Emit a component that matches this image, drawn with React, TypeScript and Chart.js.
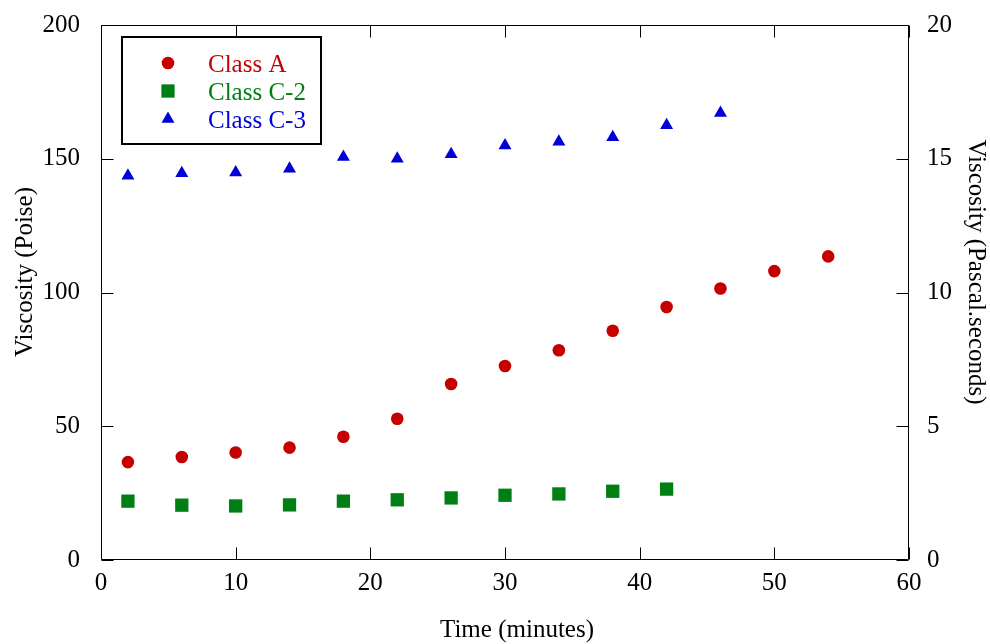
import React, { useEffect, useRef } from 'react';
import { Chart, registerables } from 'chart.js';
import { drawPoint } from 'chart.js/helpers';

Chart.register(...registerables);

const timeA = [2, 6, 10, 14, 18, 22, 26, 30, 34, 38, 42, 46, 50, 54];
const classA = [36.6, 38.5, 40.2, 42.0, 46.1, 52.8, 65.8, 72.5, 78.4, 85.7, 94.6, 101.5, 108.0, 113.5];
const timeC2 = [2, 6, 10, 14, 18, 22, 26, 30, 34, 38, 42];
const classC2 = [22.0, 20.5, 20.2, 20.6, 22.0, 22.5, 23.2, 24.2, 24.7, 25.7, 26.5];
const timeC3 = [2, 6, 10, 14, 18, 22, 26, 30, 34, 38, 42, 46];
const classC3 = [143.6, 144.6, 144.9, 146.3, 150.7, 150.0, 151.7, 155.0, 156.4, 158.0, 162.5, 167.1];

const seriesNames = ['Class A', 'Class C-2', 'Class C-3'];
const seriesColors = ['#c40000', '#008014', '#0000d8'];
const seriesStyles = ['circle', 'rect', 'triangle'];
const seriesRadius = [6.3, 9.4, 7.5];

const xTitle = 'Time (minutes)';
const yTitle = 'Viscosity (Poise)';
const y2Title = 'Viscosity (Pascal.seconds)';

const FAMILY = '"Liberation Serif", "Times New Roman", Times, serif';
const FONT = `25px ${FAMILY}`;

const framePlugin = {
  id: 'gnuframe',
  afterDraw(chart: any) {
    const { ctx, chartArea: a, scales } = chart;
    ctx.save();
    ctx.strokeStyle = '#000';
    ctx.lineWidth = 1;
    const L = Math.round(a.left) + 0.5;
    const R = Math.round(a.right) - 0.5;
    const T = Math.round(a.top) + 0.5;
    const B = Math.round(a.bottom) - 0.5;
    ctx.beginPath();
    ctx.rect(L, T, R - L, B - T);
    const tl = 12;
    scales.x.ticks.forEach((t: any) => {
      const px = Math.round(scales.x.getPixelForValue(t.value)) + 0.5;
      ctx.moveTo(px, B);
      ctx.lineTo(px, B - tl);
      ctx.moveTo(px, T);
      ctx.lineTo(px, T + tl);
    });
    scales.y.ticks.forEach((t: any) => {
      const py = Math.round(scales.y.getPixelForValue(t.value)) + 0.5;
      ctx.moveTo(L, py);
      ctx.lineTo(L + tl, py);
    });
    scales.y2.ticks.forEach((t: any) => {
      const py = Math.round(scales.y2.getPixelForValue(t.value)) + 0.5;
      ctx.moveTo(R, py);
      ctx.lineTo(R - tl, py);
    });
    ctx.stroke();

    // axis titles
    ctx.fillStyle = '#000';
    ctx.font = FONT;
    ctx.textAlign = 'center';
    ctx.textBaseline = 'alphabetic';
    ctx.fillText(xTitle, 517, 637);
    ctx.save();
    ctx.translate(32, 272);
    ctx.rotate(-Math.PI / 2);
    ctx.fillText(yTitle, 0, 0);
    ctx.restore();
    ctx.save();
    ctx.translate(969, 272);
    ctx.rotate(Math.PI / 2);
    ctx.fillText(y2Title, 0, 0);
    ctx.restore();

    // legend
    const boxL = a.left + 21;
    const boxT = a.top + 12;
    ctx.lineWidth = 2;
    ctx.strokeStyle = '#000';
    ctx.strokeRect(boxL, boxT, 199, 107);
    ctx.textAlign = 'left';
    seriesNames.forEach((name, i) => {
      const rowY = boxT + 26 + i * 28;
      ctx.fillStyle = seriesColors[i];
      drawPoint(ctx, { pointStyle: seriesStyles[i], radius: seriesRadius[i], borderWidth: 0, rotation: 0 } as any, boxL + 46, rowY);
      ctx.fillStyle = seriesColors[i];
      ctx.fillText(name, boxL + 86, rowY + 9);
    });
    ctx.restore();
  },
};

export default function App() {
  const ref = useRef<HTMLCanvasElement>(null);
  useEffect(() => {
    document.body.style.margin = '0';
    const mk = (xs: number[], ys: number[]) => xs.map((x, i) => ({ x, y: ys[i] }));
    const datas = [mk(timeA, classA), mk(timeC2, classC2), mk(timeC3, classC3)];
    const tickFont = { family: FAMILY, size: 25 };
    const fitX = (s: any) => { s.height = 84; s.paddingLeft = 0; s.paddingRight = 0; s.paddingTop = 0; s.paddingBottom = 0; };
    const fitY = (w: number) => (s: any) => { s.width = w; s.paddingTop = 0; s.paddingBottom = 0; s.paddingLeft = 0; s.paddingRight = 0; };
    const chart = new Chart(ref.current!, {
      type: 'scatter',
      data: {
        datasets: seriesNames.map((name, i) => ({
          label: name,
          data: datas[i],
          pointStyle: seriesStyles[i] as any,
          pointRadius: seriesRadius[i],
          pointHoverRadius: seriesRadius[i],
          backgroundColor: seriesColors[i],
          borderColor: seriesColors[i],
          pointBorderWidth: 0,
          showLine: false,
          yAxisID: 'y',
        })),
      },
      options: {
        animation: false,
        responsive: false,
        devicePixelRatio: 1,
        layout: { padding: { top: 25, left: 0, right: 0, bottom: 0 } },
        plugins: { legend: { display: false }, tooltip: { enabled: false } },
        scales: {
          x: {
            type: 'linear',
            min: 0,
            max: 60,
            ticks: { stepSize: 10, font: tickFont, color: '#000', padding: 8 },
            grid: { display: false, drawTicks: false },
            border: { display: false },
            afterFit: fitX,
          },
          y: {
            type: 'linear',
            position: 'left',
            min: 0,
            max: 200,
            ticks: { stepSize: 50, font: tickFont, color: '#000', padding: 21 },
            grid: { display: false, drawTicks: false },
            border: { display: false },
            afterFit: fitY(101),
          },
          y2: {
            type: 'linear',
            position: 'right',
            min: 0,
            max: 20,
            ticks: { stepSize: 5, font: tickFont, color: '#000', padding: 18 },
            grid: { display: false, drawTicks: false },
            border: { display: false },
            afterFit: fitY(81),
          },
        },
      },
      plugins: [framePlugin],
    });
    return () => chart.destroy();
  }, []);
  return (
    <div style={{ width: 990, height: 644, background: '#fff' }}>
      <canvas ref={ref} width={990} height={644} />
    </div>
  );
}
